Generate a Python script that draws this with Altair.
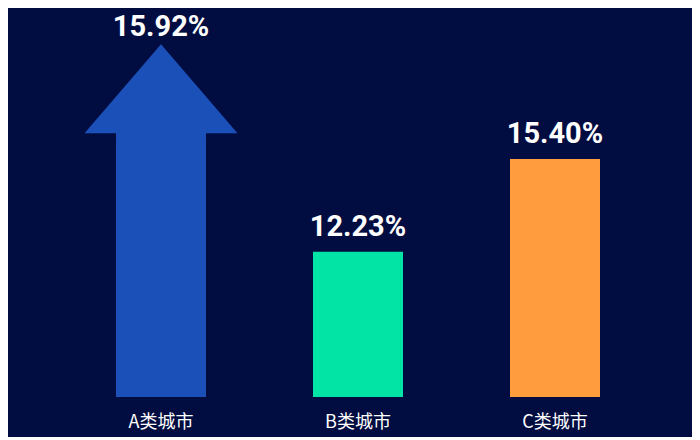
import altair as alt
import pandas as pd

categories = ["A类城市", "B类城市", "C类城市"]
values = [15.92, 12.23, 15.40]
shapes = ["arrow", "bar", "bar"]
colors = ["#1b50b9", "#02e4a6", "#fe9c3e"]

BG = "#010c40"
Y_MIN, Y_MAX = 7.261, 20.565

df = pd.DataFrame({"cat": categories, "value": values, "shape": shapes})

x_enc = alt.X(
    "cat:N",
    sort=categories,
    scale=alt.Scale(range=[108, 592], paddingInner=0.5431, paddingOuter=0),
    axis=alt.Axis(
        title=None, labelAngle=0, ticks=False, tickSize=0, domain=False, grid=False,
        labelColor="#ffffff", labelFontSize=18, labelFont="Noto Sans CJK SC",
        labelBaseline="alphabetic", labelPadding=30,
    ),
)
y_scale = alt.Scale(domain=[Y_MIN, Y_MAX], zero=False, nice=False)
y_enc = alt.Y("value:Q", scale=y_scale, axis=None)
color_enc = alt.Color("cat:N", scale=alt.Scale(domain=categories, range=colors), legend=None)

base = alt.Chart(df).transform_calculate(
    label="format(datum.value, '.2f') + '%'"
)

bars = base.mark_bar(opacity=1).encode(
    x=x_enc, y=y_enc, y2=alt.Y2(datum=Y_MIN), color=color_enc
)

arrow_path = "M0,-1.301 L1,-0.137 L0.588,-0.137 L0.588,0.06 L-0.588,0.06 L-0.588,-0.137 L-1,-0.137 Z"
head = base.transform_filter(alt.datum.shape == "arrow").mark_point(
    shape=arrow_path, size=23409, filled=True, opacity=1, strokeWidth=0
).encode(x=x_enc, y=y_enc, color=color_enc)

label_font = "Roboto, sans-serif"
bar_labels = base.transform_filter(alt.datum.shape == "bar").mark_text(
    dy=-16, baseline="alphabetic", font=label_font, fontSize=29, fontWeight="bold", color="#ffffff"
).encode(x=x_enc, y=y_enc, text="label:N")
arrow_labels = base.transform_filter(alt.datum.shape == "arrow").mark_text(
    dy=-108, baseline="alphabetic", font=label_font, fontSize=29, fontWeight="bold", color="#ffffff"
).encode(x=x_enc, y=y_enc, text="label:N")

chart = alt.layer(bars, head, bar_labels, arrow_labels).properties(
    width=684,
    height=389,
    autosize=alt.AutoSizeParams(type="none"),
    padding={"left": 0, "top": 0, "right": 0, "bottom": 40},
    background=BG,
).configure_view(stroke=None)

chart.save("out.html", embed_options={"renderer": "svg", "actions": False})
